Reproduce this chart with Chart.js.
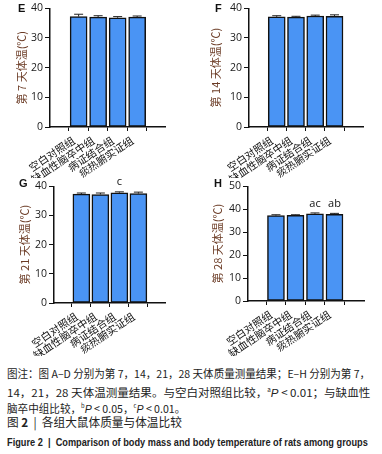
<!DOCTYPE html>
<html>
<head>
<meta charset="utf-8">
<script src="https://cdn.jsdelivr.net/npm/chart.js@4/dist/chart.umd.min.js"></script>
<style>
  body { margin: 0; background: #fff; width: 382px; height: 454px; position: relative; overflow: hidden; font-family: "Noto Sans CJK SC", "Noto Sans", sans-serif; }
  canvas { position: absolute; }
  .tag { position: absolute; font: bold 11px "Liberation Sans", sans-serif; color: #111; }
  .cap { position: absolute; left: 7px; font-size: 11px; color: #222; white-space: nowrap; line-height: 16px; transform-origin: 0 0; }
  .cap i { font-family: "Liberation Sans", sans-serif; }
  .cap sup { font-size: 6px; }
  .fig { position: absolute; left: 7px; top: 437px; font: bold 10px "Liberation Sans", sans-serif; color: #222; white-space: nowrap; transform-origin: 0 0; }
</style>
</head>
<body>
<canvas id="cE" width="191" height="178" style="left:0;top:0"></canvas>
<canvas id="cF" width="191" height="178" style="left:191px;top:0"></canvas>
<canvas id="cG" width="191" height="178" style="left:0;top:178px"></canvas>
<canvas id="cH" width="191" height="178" style="left:191px;top:178px"></canvas>
<div class="tag" style="left:18px;top:2px">E</div>
<div class="tag" style="left:215px;top:2px">F</div>
<div class="tag" style="left:19px;top:177px">G</div>
<div class="tag" style="left:214px;top:177px">H</div>

<div class="cap" id="l1" style="top:365px">图注：图 A–D 分别为第 7，14，21，28 天体质量测量结果；E–H 分别为第 7，</div>
<div class="cap" id="l2" style="top:382px">14，21，28 天体温测量结果。与空白对照组比较，<sup>a</sup><i>P</i> &lt; 0.01；与缺血性</div>
<div class="cap" id="l3" style="top:398px">脑卒中组比较，<sup>b</sup><i>P</i> &lt; 0.05，<sup>c</sup><i>P</i> &lt; 0.01。</div>
<div class="cap" id="l4" style="top:414px;font-size:12px">图 <b>2</b> &nbsp;|&nbsp; 各组大鼠体质量与体温比较</div>
<div class="fig" id="l5">Figure 2 &nbsp;|&nbsp; Comparison of body mass and body temperature of rats among groups</div>

<script>
/* Data */
const groups = ["空白对照组", "缺血性脑卒中组", "病证结合组", "痰热腑实证组"];

const day7Temp = [37.2, 37.0, 36.8, 37.0];
const day7Err = [0.8, 0.5, 0.4, 0.4];

const day14Temp = [37.1, 37.0, 37.4, 37.3];
const day14Err = [0.4, 0.3, 0.3, 0.5];

const day21Temp = [37.3, 37.2, 37.8, 37.5];
const day21Err = [0.4, 0.5, 0.3, 0.5];
const day21Marks = ["", "", "c", ""];

const day28Temp = [37.2, 37.3, 38.0, 37.8];
const day28Err = [0.4, 0.3, 0.4, 0.4];
const day28Marks = ["", "", "ac", "ab"];

/* Error bars + significance letters */
const errorBars = {
  id: "errorBars",
  afterDatasetsDraw(chart, args, opts) {
    const ctx = chart.ctx;
    const xs = chart.scales.x;
    const ys = chart.scales.y;
    const vals = chart.data.datasets[0].data;
    ctx.save();
    ctx.strokeStyle = "#222";
    ctx.lineWidth = 1;
    vals.forEach((p, i) => {
      const x = xs.getPixelForValue(p.x);
      const yTop = ys.getPixelForValue(p.y);
      const yErr = ys.getPixelForValue(p.y + opts.errors[i]);
      ctx.beginPath();
      ctx.moveTo(x, yTop);
      ctx.lineTo(x, yErr);
      ctx.moveTo(x - 4.5, yErr);
      ctx.lineTo(x + 4.5, yErr);
      ctx.stroke();
      const m = opts.marks ? opts.marks[i] : "";
      if (m) {
        ctx.fillStyle = "#111";
        ctx.font = "11px 'Open Sans', sans-serif";
        ctx.textAlign = "center";
        ctx.textBaseline = "bottom";
        ctx.fillText(m, x, yErr - 4);
      }
    });
    ctx.restore();
  }
};

function makePanel(id, values, errors, marks, title, yMax, area, xMin, xMax) {
  const canvas = document.getElementById(id);
  const w = canvas.width, h = canvas.height;
  return new Chart(canvas, {
    type: "bar",
    data: {
      datasets: [{
        data: values.map((v, i) => ({ x: i, y: v })),
        backgroundColor: "#4a94f4",
        borderColor: "#111",
        borderWidth: 1.5,
        barThickness: 17,
        borderSkipped: false
      }]
    },
    options: {
      responsive: false,
      animation: false,
      layout: { padding: { left: 0, top: area.top, right: w - area.right, bottom: 0 } },
      plugins: {
        legend: { display: false },
        tooltip: { enabled: false },
        errorBars: { errors: errors, marks: marks }
      },
      scales: {
        x: {
          type: "linear",
          min: xMin,
          max: xMax,
          afterBuildTicks: (s) => { s.ticks = groups.map((g, i) => ({ value: i })); },
          afterFit: (s) => { s.height = h - area.bottom; },
          ticks: {
            callback: (v) => groups[v],
            minRotation: 34,
            maxRotation: 34,
            autoSkip: false,
            padding: 3,
            labelOffset: -5,
            color: "#111",
            font: { size: 10.5, family: "'Noto Sans CJK SC'" }
          },
          grid: { drawOnChartArea: false, tickLength: 4, color: "#111", lineWidth: 1 },
          border: { color: "#111", width: 1.5 }
        },
        y: {
          min: 0,
          max: yMax,
          afterFit: (s) => { s.width = area.left; },
          ticks: {
            stepSize: 10,
            padding: 2,
            color: "#1a1a1a",
            font: { size: 10.5, family: "'Open Sans'" }
          },
          grid: { drawOnChartArea: false, tickLength: 5, color: "#111", lineWidth: 1 },
          border: { color: "#111", width: 1.5 },
          title: {
            display: true,
            text: title,
            color: "#6b3b25",
            padding: { top: area.titleX, bottom: 0 },
            font: { size: 11, family: "'Noto Sans CJK SC'" }
          }
        }
      }
    },
    plugins: [errorBars]
  });
}

makePanel("cE", day7Temp, day7Err, null, "第 7 天体温(℃)", 40,
  { left: 50, right: 165, top: 7, bottom: 127, titleX: 15 }, -0.73, 3.69);
makePanel("cF", day14Temp, day14Err, null, "第 14 天体温(℃)", 40,
  { left: 58, right: 172, top: 7, bottom: 127, titleX: 18 }, -0.7, 3.74);
makePanel("cG", day21Temp, day21Err, day21Marks, "第 21 天体温(℃)", 40,
  { left: 54, right: 165, top: 8, bottom: 125, titleX: 18 }, -0.71, 3.67);
makePanel("cH", day28Temp, day28Err, day28Marks, "第 28 天体温(℃)", 50,
  { left: 57, right: 173, top: 8, bottom: 123, titleX: 20 }, -0.69, 3.77);

/* fit caption widths */
function fitWidth(id, target) {
  const el = document.getElementById(id);
  el.style.transform = "scaleX(" + (target / el.scrollWidth) + ")";
}
fitWidth("l1", 363);
fitWidth("l2", 363);
fitWidth("l3", 178);
fitWidth("l4", 175);
fitWidth("l5", 361);
</script>
</body>
</html>
